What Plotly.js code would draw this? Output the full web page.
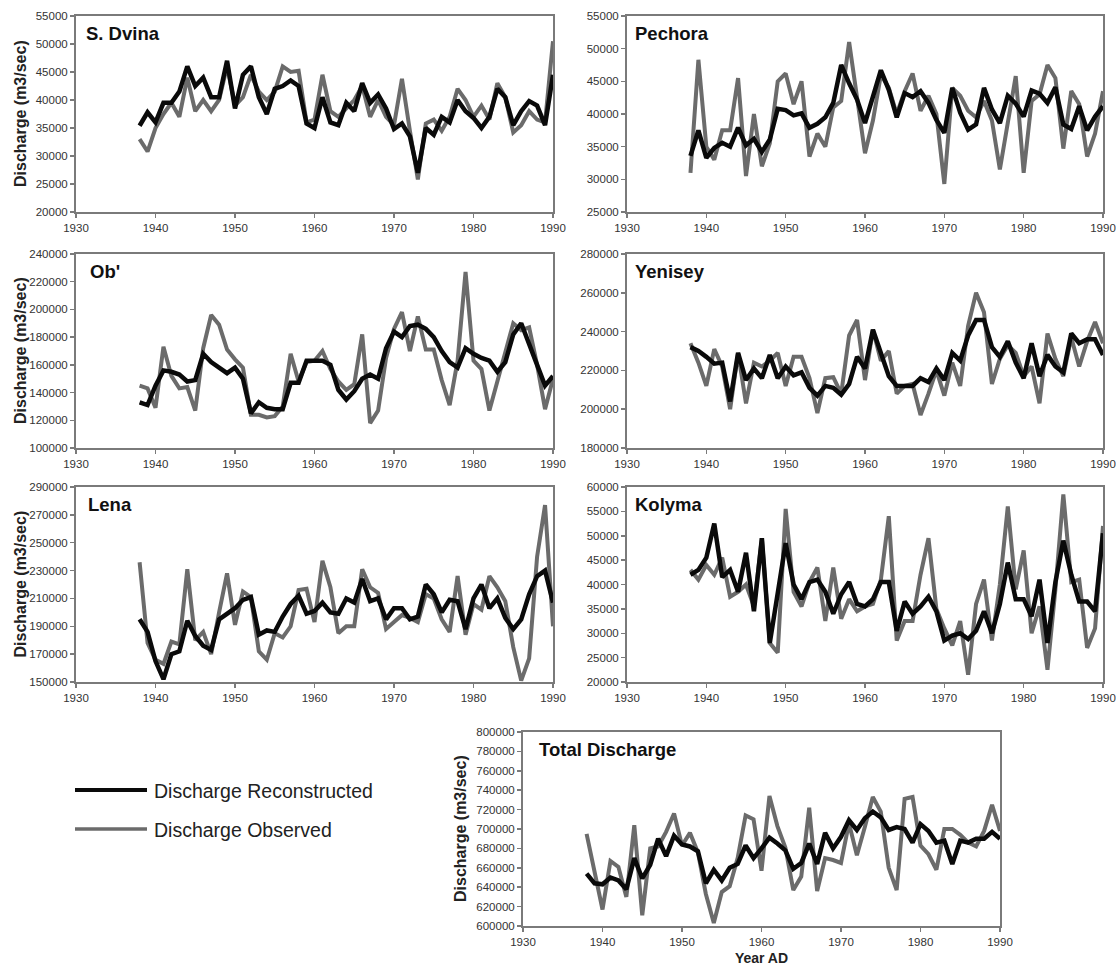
<!DOCTYPE html>
<html>
<head>
<meta charset="utf-8">
<script src="https://cdn.plot.ly/plotly-3.0.1.min.js"></script>
<style>html,body{margin:0;padding:0;background:#fff;}#chart{width:1116px;height:967px;}</style>
</head>
<body>
<div id="chart"></div>
<script>
// ---- data ----
const years = [1938,1939,1940,1941,1942,1943,1944,1945,1946,1947,1948,1949,1950,1951,1952,1953,1954,1955,1956,1957,1958,1959,1960,1961,1962,1963,1964,1965,1966,1967,1968,1969,1970,1971,1972,1973,1974,1975,1976,1977,1978,1979,1980,1981,1982,1983,1984,1985,1986,1987,1988,1989,1990];

const dvinaRec = [35400,37800,36000,39500,39500,41500,46000,42500,44000,40500,40500,47000,38500,44500,46000,40500,37500,42000,42500,43500,42500,35800,35000,40500,36000,35500,39500,38000,43000,39500,41000,38500,34800,35800,33500,27000,35000,33800,37000,36000,40000,38000,36800,35000,37000,42000,40500,35500,38000,39800,39000,35500,44500];
const dvinaObs = [33000,30800,35000,37500,39500,37000,44000,38000,40000,38000,40000,46000,39000,40500,44500,41500,40000,41500,46000,45000,45200,36000,36500,44500,38000,37000,38500,40000,42500,37000,40000,37000,35500,43800,34500,25800,35800,36500,34500,37000,42000,40000,37000,39000,36500,43000,40500,34200,35500,38000,36500,36000,50500];

const pechoraRec = [33600,37500,33300,34800,35600,35000,37900,35200,36200,34200,36100,40800,40600,39800,40100,37900,38500,39500,41700,47500,44700,42200,38600,42700,46700,43700,39500,43200,42600,43500,41700,39100,37100,44000,40200,37600,38400,44000,40700,38600,42800,41600,39600,43600,43100,41700,44100,38400,37700,41200,37500,39600,41200];
const pechoraObs = [31000,48300,35000,33000,37500,37500,45500,30500,40000,32000,35500,45000,46200,41500,45000,33500,37000,35000,41000,42000,51000,42000,34000,39000,46000,44000,40000,43500,46200,40500,42800,40000,29300,44000,42800,40500,39500,42000,39000,31500,38500,45800,31000,42000,43000,47500,45500,34700,43500,41500,33500,37000,43500];

const obRec = [133000,131000,145000,156000,155000,153000,148000,149000,168000,162000,158000,154000,158000,150000,125000,133000,129000,128000,128000,147000,147000,163000,163000,163000,160000,142000,135000,141000,150000,153000,150000,172000,184000,180000,188000,189000,186000,180000,170000,162000,158000,172000,168000,165000,163000,155000,162000,182000,190000,176000,160000,145000,152000];
const obObs = [145000,143000,129000,173000,152000,143000,144000,127000,172000,196000,189000,171000,164000,158000,124000,124000,122000,123000,130000,168000,148000,162000,163000,170000,157000,148000,142000,146000,182000,118000,127000,165000,186000,198000,170000,195000,171000,171000,149000,131000,163000,227000,163000,157000,127000,148000,168000,190000,185000,187000,160000,128000,150000];

const yeniseyRec = [232000,230000,227000,223500,224000,204000,229000,215000,221000,216000,228000,216000,222000,217500,219000,211000,207000,212000,211000,207500,213000,227000,221000,241000,229000,217000,212000,212000,212000,216000,214000,221000,215000,229000,225000,238000,246000,246000,232000,227000,235000,224000,216000,234000,217000,228000,222000,219000,239000,234000,236000,236000,228000];
const yeniseyObs = [234000,224000,212000,231000,222000,200000,229000,203000,224000,222000,225000,229000,212000,227000,227000,216000,198000,216000,216500,208000,238000,246000,215000,241000,225000,230000,208000,212000,213000,197000,208000,220000,207000,224000,212000,243000,260000,250000,213000,226000,233000,229000,217000,222000,203000,239000,226000,217000,237000,222000,235000,245000,234000];

const lenaRec = [195000,186000,165000,152000,170000,172000,194000,183000,176000,173000,195000,199000,203000,209000,211000,184000,187000,186000,197000,206000,212000,199000,201000,207000,200000,199000,210000,207000,224000,208000,210000,195000,203000,203000,195000,197000,220000,213000,200000,209000,208000,188000,210000,220000,203000,210000,196000,188000,195000,213000,226000,230000,207000];
const lenaObs = [236000,178000,166000,163000,179000,177000,231000,180000,186000,170000,200000,228000,191000,215000,211000,172000,166000,185000,182000,190000,216000,217000,193000,237000,218000,185000,190000,190000,231000,218000,214000,188000,193000,198000,196000,193000,213000,210000,195000,186000,226000,184000,206000,202000,226000,218000,208000,175000,151000,167000,240000,277000,190000];

const kolymaRec = [42000,43000,45500,52500,41500,43000,38500,46500,34500,49500,28000,38000,48500,40000,37000,40500,41000,38500,34000,38000,40500,36000,35500,37000,40500,40500,30500,36500,34000,35500,37500,34500,28500,29500,30000,28800,30500,34500,30000,36000,44500,37000,37000,33500,41000,28000,40500,49000,42000,36500,36500,34500,50500];
const kolymaObs = [43000,41000,44000,42000,45500,37500,38500,40000,35500,49500,28000,26000,55500,38500,35500,40500,43500,32500,43500,33000,37000,34500,35500,36000,41000,54000,28500,32500,32500,42000,49500,35000,31000,27500,32500,21500,36000,41000,28500,40000,56000,39000,47000,30000,35500,22500,39000,58500,40500,41000,27000,31000,52000];

const totalRec = [654000,644000,643000,650000,647000,638000,670000,649000,663000,690000,672000,693000,684000,682000,677000,644000,658000,647000,660000,664000,683000,670000,680000,691000,685000,678000,659000,665000,685000,664000,696000,680000,692000,709000,699000,711000,718000,712000,699000,702000,700000,686000,705000,698000,686000,688000,664000,688000,686000,690000,690000,697000,690000];
const totalObs = [695000,657000,617000,667000,661000,630000,704000,611000,680000,682000,697000,716000,683000,696000,676000,633000,603000,635000,641000,670000,714000,710000,657000,734000,703000,681000,637000,651000,722000,636000,670000,668000,665000,706000,673000,702000,733000,718000,660000,637000,731000,733000,683000,674000,658000,700000,700000,694000,686000,682000,698000,725000,698000];

const panelNames = ["S. Dvina","Pechora","Ob'","Yenisey","Lena","Kolyma","Total Discharge"];
const yRanges = [[20000,55000],[25000,55000],[100000,240000],[180000,280000],[150000,290000],[20000,60000],[600000,800000]];
const yDticks = [5000,5000,20000,20000,20000,5000,20000];
const xRange = [1930,1990];
const legendLabels = ["Discharge Reconstructed","Discharge Observed"];
const yTitle = "Discharge (m3/sec)";
const xTitle = "Year AD";

// ---- layout helpers ----
const W = 1116, H = 967;
// plot boxes in pixels [left, right, top, bottom]
const boxes = [
  [76,553,16,212],[627,1103,16,212],
  [76,553,254,448],[627,1103,254,448],
  [76,553,487,682],[627,1103,487,682],
  [523,1000,732,926]
];
const titleDx = [8,6,12,6,10,6,14];
const yTitleX = [20,null,20,null,20,null,460];
const recSeries = [dvinaRec,pechoraRec,obRec,yeniseyRec,lenaRec,kolymaRec,totalRec];
const obsSeries = [dvinaObs,pechoraObs,obObs,yeniseyObs,lenaObs,kolymaObs,totalObs];

const GRAY = '#6b6b6b', BLACK = '#0a0a0a', AXC = '#7a7a7a';
const FONT = 'Liberation Sans, Arial, sans-serif';

const traces = [];
const layout = {
  width: W, height: H,
  margin: {l:0,r:0,t:0,b:0},
  paper_bgcolor: '#fff', plot_bgcolor: '#fff',
  showlegend: false,
  font: {family: FONT, color: '#333'},
  annotations: [], shapes: []
};

for (let i = 0; i < 7; i++) {
  const n = i === 0 ? '' : String(i+1);
  const b = boxes[i];
  traces.push({x: years, y: obsSeries[i], type: 'scatter', mode: 'lines', xaxis: 'x'+n, yaxis: 'y'+n,
    line: {color: GRAY, width: 4}, name: legendLabels[1], hoverinfo: 'x+y'});
  traces.push({x: years, y: recSeries[i], type: 'scatter', mode: 'lines', xaxis: 'x'+n, yaxis: 'y'+n,
    line: {color: BLACK, width: 4.5}, name: legendLabels[0], hoverinfo: 'x+y'});
  layout['xaxis'+n] = {
    domain: [b[0]/W, b[1]/W], anchor: 'y'+n, range: xRange, dtick: 10, tick0: xRange[0],
    showgrid: false, zeroline: false, showline: true, mirror: true, linecolor: AXC, linewidth: 2,
    ticks: 'outside', ticklen: 4, tickwidth: 1.5, tickcolor: AXC,
    tickfont: {size: 11.5, color: '#333', family: FONT}, tickformat: 'd'
  };
  layout['yaxis'+n] = {
    domain: [1 - b[3]/H, 1 - b[2]/H], anchor: 'x'+n, range: yRanges[i], dtick: yDticks[i], tick0: yRanges[i][0],
    showgrid: false, zeroline: false, showline: true, mirror: true, linecolor: AXC, linewidth: 2,
    ticks: 'outside', ticklen: 4, tickwidth: 1.5, tickcolor: AXC,
    tickfont: {size: 11.5, color: '#333', family: FONT}, tickformat: 'd'
  };
  if (yTitleX[i] !== null) {
    layout.annotations.push({
      xref: 'paper', yref: 'paper', x: yTitleX[i]/W, y: 1 - ((b[2]+b[3])/2)/H,
      xanchor: 'center', yanchor: 'middle', textangle: -90, showarrow: false, text: yTitle,
      font: {size: 16, color: '#222', family: FONT, weight: 'bold'}
    });
  }
  layout.annotations.push({
    xref: 'x'+n+' domain', yref: 'y'+n+' domain', x: titleDx[i]/(b[1]-b[0]), y: 1 - 17/(b[3]-b[2]),
    xanchor: 'left', yanchor: 'middle', showarrow: false, text: panelNames[i],
    font: {size: 18.5, color: '#111', family: FONT, weight: 'bold'}
  });
}
layout.xaxis7.title = {text: xTitle, font: {size: 14, color: '#222', family: FONT, weight: 'bold'}, standoff: 6};

// legend (drawn manually, as in the original figure)
const legY = [790, 829];
const legColors = [BLACK, GRAY];
const legWidths = [4, 3.5];
for (let k = 0; k < 2; k++) {
  layout.shapes.push({type: 'line', xref: 'paper', yref: 'paper', x0: 75/W, x1: 147/W, y0: 1-legY[k]/H, y1: 1-legY[k]/H,
    line: {color: legColors[k], width: legWidths[k]}});
  layout.annotations.push({xref: 'paper', yref: 'paper', x: 152/W, y: 1-(legY[k]+1)/H, xanchor: 'left', yanchor: 'middle',
    showarrow: false, text: legendLabels[k], font: {size: 19.5, color: '#222', family: FONT}});
}

Plotly.newPlot('chart', traces, layout, {displayModeBar: false, staticPlot: true});
</script>
</body>
</html>
